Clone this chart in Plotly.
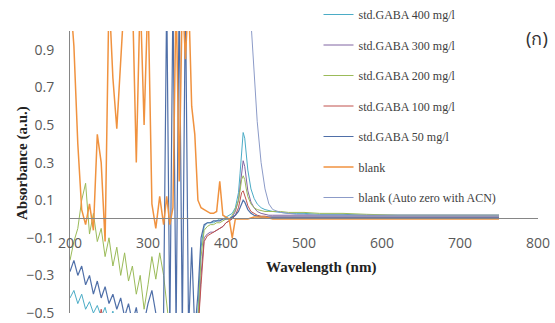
import plotly.graph_objects as go

wavelength = [200, 205, 210, 215, 220, 225, 230, 235, 240, 245, 250, 255, 260, 265, 270, 275, 280, 285, 290, 295, 300, 305, 310, 315, 320,
              324, 328, 332, 336, 340, 344, 348, 352, 356, 360,
              364, 368, 372, 376, 380, 384, 388, 392, 396, 400,
              404, 408, 412, 416, 418, 420, 422, 424, 426, 428, 432, 436, 440,
              445, 450, 455, 460, 470, 480, 490, 500,
              520, 550, 580, 620, 660, 700, 750]

std400 = [-0.42, -0.38, -0.45, -0.4, -0.48, -0.44, -0.5, -0.46, -0.52, -0.47, -0.55, -0.49, -0.6, -0.5, -0.6, -0.55, -0.6, -0.5, -0.6, -0.6, -0.6, -0.6, -0.6, -0.6, -0.6,
          -0.6, -0.6, -0.6, -0.6, -0.6, -0.6, -0.6, -0.6, -0.6, -0.6,
          -0.5, -0.15, -0.04, -0.02, -0.02, -0.02, -0.01, 0.0, 0.0, 0.01,
          0.02, 0.03, 0.06, 0.14, 0.24, 0.38, 0.46, 0.43, 0.34, 0.26, 0.16, 0.11, 0.08,
          0.06, 0.05, 0.045, 0.04, 0.035, 0.03, 0.03, 0.03,
          0.025, 0.025, 0.02, 0.02, 0.02, 0.02, 0.02]

std300 = [-0.6, -0.6, -0.6, -0.6, -0.6, -0.6, -0.6, -0.6, -0.6, -0.6, -0.6, -0.6, -0.6, -0.6, -0.6, -0.6, -0.6, -0.6, -0.6, -0.6, -0.6, -0.6, -0.6, -0.6, -0.6,
          -0.6, -0.6, -0.6, -0.6, -0.6, -0.6, -0.6, -0.6, -0.6, -0.6,
          -0.6, -0.3, -0.1, -0.08, -0.07, -0.07, -0.06, -0.05, -0.04, -0.02,
          -0.01, 0.01, 0.04, 0.1, 0.17, 0.27, 0.31, 0.28, 0.21, 0.15, 0.09, 0.06, 0.04,
          0.03, 0.025, 0.02, 0.02, 0.02, 0.02, 0.02, 0.02,
          0.02, 0.02, 0.02, 0.02, 0.02, 0.02, 0.02]

std200 = [-0.22, -0.12, -0.05, 0.1, 0.19, -0.08, 0.03, -0.12, -0.05, -0.2, -0.1, -0.25, -0.15, -0.3, -0.18, -0.33, -0.25, -0.4, -0.3, -0.48, -0.35, -0.2, -0.32, -0.18, -0.3,
          -0.45, -0.6, -0.6, -0.6, -0.6, -0.6, -0.6, -0.6, -0.6, -0.6,
          -0.55, -0.2, -0.06, -0.04, -0.03, -0.03, -0.02, -0.02, -0.01, 0.0,
          0.0, 0.02, 0.05, 0.1, 0.15, 0.21, 0.23, 0.21, 0.16, 0.12, 0.08, 0.06, 0.05,
          0.045, 0.04, 0.04, 0.04, 0.04, 0.035, 0.035, 0.035,
          0.03, 0.03, 0.025, 0.02, 0.02, 0.02, 0.02]

std100 = [-0.6, -0.6, -0.6, -0.6, -0.6, -0.6, -0.6, -0.6, -0.48, -0.6, -0.6, -0.6, -0.6, -0.6, -0.6, -0.6, -0.6, -0.6, -0.6, -0.6, -0.6, -0.6, -0.6, -0.6, -0.6,
          -0.6, -0.6, -0.6, -0.6, -0.6, -0.6, -0.6, -0.6, -0.6, -0.6,
          -0.6, -0.35, -0.12, -0.09, -0.08, -0.07, -0.06, -0.05, -0.04, -0.02,
          -0.01, 0.0, 0.02, 0.06, 0.1, 0.14, 0.15, 0.13, 0.1, 0.07, 0.04, 0.03, 0.02,
          0.015, 0.015, 0.01, 0.01, 0.01, 0.01, 0.01, 0.01,
          0.01, 0.01, 0.01, 0.01, 0.01, 0.01, 0.01]

std50 = [-0.28, -0.22, -0.3, -0.25, -0.35, -0.3, -0.4, -0.33, -0.42, -0.36, -0.45, -0.4, -0.48, -0.42, -0.52, -0.45, -0.55, -0.47, -0.6, -0.55, -0.45, -0.38, -0.5, -0.6, -0.5,
         1.2, -0.6, 1.2, -0.6, 1.2, -0.6, 1.2, -0.6, -0.15, -0.6,
         -0.4, -0.1, -0.03, -0.02, -0.02, -0.01, -0.01, -0.01, 0.0, 0.0,
         0.0, 0.01, 0.02, 0.04, 0.06, 0.09, 0.1, 0.09, 0.07, 0.05, 0.03, 0.02, 0.015,
         0.01, 0.01, 0.01, 0.01, 0.01, 0.01, 0.01, 0.01,
         0.01, 0.01, 0.01, 0.01, 0.01, 0.01, 0.01]

blank = [1.2, 0.92, 0.4, 0.05, -0.03, 0.08, -0.06, 0.45, 0.3, -0.12, 1.2, 0.75, 0.48, 0.9, 1.2, 1.2, 1.2, 0.3, 1.2, 0.5, 1.2, 0.08, -0.05, 0.12, -0.03,
         0.12, -0.03, 0.06, 1.2, 0.2, 1.2, 0.85, 1.2, 0.6, 0.45,
         0.1, 0.06, 0.05, 0.04, 0.03, 0.03, 0.04, 0.2, 0.02, 0.01,
         0.0, -0.1, 0.0, 0.0, 0.0, 0.0, 0.0, 0.0, 0.0, 0.0, 0.005, 0.01, 0.01,
         0.01, 0.01, 0.005, 0.0, 0.0, 0.0, 0.0, 0.0,
         0.0, 0.0, 0.0, 0.0, 0.0, 0.0, 0.0]

blank_acn = [1.2, 1.2, 1.2, 1.2, 1.2, 1.2, 1.2, 1.2, 1.2, 1.2, 1.2, 1.2, 1.2, 1.2, 1.2, 1.2, 1.2, 1.2, 1.2, 1.2, 1.2, 1.2, 1.2, 1.2, 1.2,
             1.2, 1.2, 1.2, 1.2, 1.2, 1.2, 1.2, 1.2, 1.2, 1.2,
             1.2, 1.2, 1.2, 1.2, 1.2, 1.2, 1.2, 1.2, 1.2, 1.2,
             1.2, 1.2, 1.2, 1.2, 1.2, 1.2, 1.2, 1.2, 1.2, 1.2, 1.05, 0.8, 0.52,
             0.3, 0.16, 0.08, 0.05, 0.035, 0.03, 0.025, 0.025,
             0.02, 0.02, 0.02, 0.02, 0.02, 0.02, 0.02]

series_names = ["std.GABA 400 mg/l", "std.GABA 300 mg/l", "std.GABA 200 mg/l",
                "std.GABA 100 mg/l", "std.GABA 50 mg/l", "blank", "blank (Auto zero with ACN)"]
series_values = [std400, std300, std200, std100, std50, blank, blank_acn]
colors = ["#4BACC6", "#8064A2", "#9BBB59", "#C0504D", "#4F6FA8", "#F0923F", "#8C9BC8"]
widths = [1, 1, 1, 1, 1.2, 1.5, 1]
x_ticks = [200, 300, 400, 500, 600, 700, 800]

fig = go.Figure()
for i, (name, vals) in enumerate(zip(series_names, series_values)):
    fig.add_trace(go.Scatter(x=wavelength, y=vals, mode="lines", name=name,
                             legendgroup=f"g{i}",
                             line=dict(color=colors[i], width=widths[i])))

# paper height = 313 px (323 - bottom margin 10); plot area occupies bottom 282 px
H = 313.0
tick_font = dict(family="Open Sans", size=14, color="#595959")
fig.update_layout(
    width=555, height=323,
    margin=dict(l=70, r=17, t=0, b=10, autoexpand=False),
    plot_bgcolor="white", paper_bgcolor="white",
    legend=dict(x=0.531, y=1.0, xanchor="left", yanchor="top",
                font=dict(family="Liberation Serif", size=12, color="#404040"),
                tracegroupgap=11.5, bgcolor="rgba(0,0,0,0)", itemwidth=30,
                traceorder="grouped"),
    xaxis=dict(range=[200, 800], tickvals=x_ticks, anchor="free", position=(H - 218) / H,
               showline=True, linecolor="#868686", linewidth=1, ticks="",
               showgrid=False, zeroline=False, tickfont=tick_font, ticklabelstandoff=12,
               automargin=False),
    yaxis=dict(range=[-0.5, 1.0], tick0=-0.5, dtick=0.2, tickformat=".1f",
               domain=[0, 282 / H],
               showline=True, linecolor="#868686", linewidth=1, ticks="",
               showgrid=False, zeroline=False, tickfont=tick_font, ticklabelstandoff=12,
               automargin=False),
    annotations=[
        dict(text="<b>Wavelength (nm)</b>", x=(321 - 70) / 468, y=(H - 267) / H,
             xref="paper", yref="paper", xanchor="center", yanchor="middle", showarrow=False,
             font=dict(family="Liberation Serif", size=15, color="#222222")),
        dict(text="<b>Absorbance (a.u.)</b>", x=(22 - 70) / 468, y=(H - 163) / H,
             xref="paper", yref="paper", xanchor="center", yanchor="middle",
             textangle=-90, showarrow=False,
             font=dict(family="Liberation Serif", size=15, color="#222222")),
        dict(text="(ก)", x=(537 - 70) / 468, y=(H - 38) / H, xref="paper", yref="paper",
             xanchor="center", yanchor="middle",
             showarrow=False, font=dict(family="Noto Sans", size=18, color="#333333")),
    ],
)

fig.write_html("out.html", config={"displayModeBar": False},
               post_script="document.body.style.margin='0';")
